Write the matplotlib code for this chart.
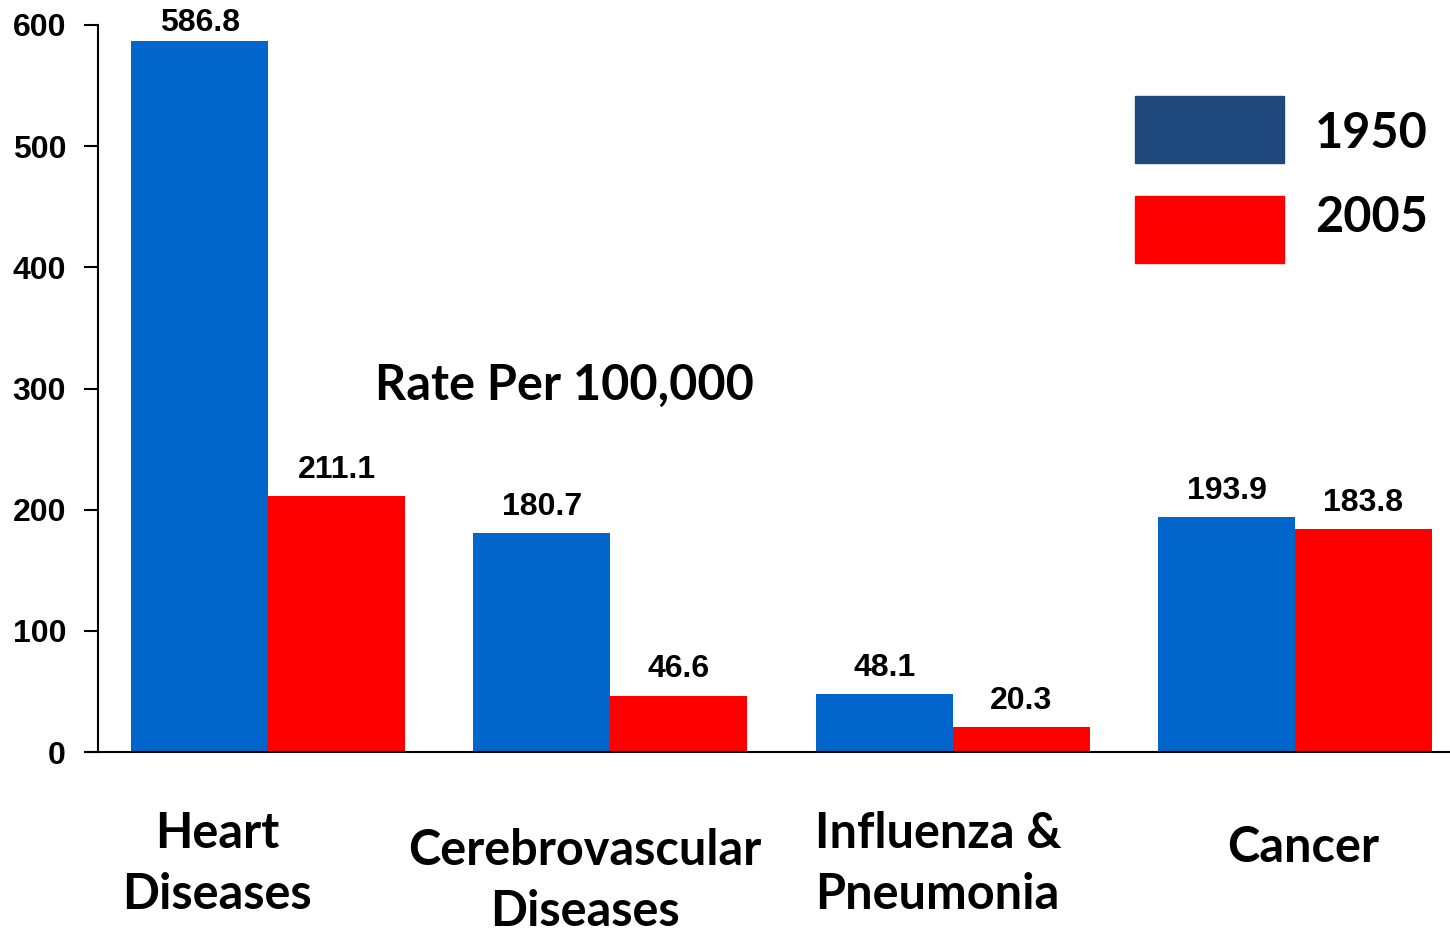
import numpy as np
import matplotlib.pyplot as plt
from matplotlib.patches import Rectangle

# data
categories = ["Heart\nDiseases", "Cerebrovascular\nDiseases", "Influenza &\nPneumonia", "Cancer"]
rates_1950 = [586.8, 180.7, 48.1, 193.9]
rates_2005 = [211.1, 46.6, 20.3, 183.8]
years = ["1950", "2005"]
y_ticks = [0, 100, 200, 300, 400, 500, 600]

blue = "#0066CC"
red = "#FF0000"
legend_blue = "#1F497D"

fig = plt.figure(figsize=(14.5, 9.33), dpi=100)
ax = fig.add_axes([98 / 1450, 1 - 752 / 933, 1 - 98 / 1450, (752 - 25) / 933])

x = np.arange(len(categories))
w = 0.4
b1 = ax.bar(x - w / 2, rates_1950, w, color=blue)
b2 = ax.bar(x + w / 2, rates_2005, w, color=red)

for bars, vals in [(b1, rates_1950), (b2, rates_2005)]:
    for bar, v in zip(bars, vals):
        # tallest label squeezed against the top edge
        off = 2 if v > 550 else 8
        ax.annotate(f"{v:.1f}", (bar.get_x() + bar.get_width() / 2, v),
                    xytext=(0, off), textcoords="offset points",
                    ha="center", va="bottom", fontsize=23, fontweight="bold",
                    family="Liberation Sans", annotation_clip=False)

ax.set_xlim(-0.497, 3.453)
ax.set_ylim(0, 600)
ax.set_yticks(y_ticks)
ax.set_yticklabels([str(t) for t in y_ticks], fontsize=23, fontweight="bold",
                   family="Liberation Sans")
ax.tick_params(axis="y", direction="out", length=10, width=1.5, pad=13)
ax.set_xticks([])
for s in ["top", "right"]:
    ax.spines[s].set_visible(False)
ax.spines["left"].set_linewidth(1.5)
ax.spines["bottom"].set_linewidth(1.5)
ax.spines["bottom"].set_bounds(-0.527, 3.453)
ax.spines["bottom"].set_clip_on(False)

# category labels (figure pixel positions)
lab_font = dict(fontsize=35, fontweight="bold", family="Lato", linespacing=1.45)
fig.text(217 / 1450, 1 - 864 / 933, categories[0], ha="center", va="center", **lab_font)
fig.text(585 / 1450, 1 - 881 / 933, categories[1], ha="center", va="center", **lab_font)
fig.text(815 / 1450, 1 - 864 / 933, categories[2], ha="left", va="center", **lab_font)
fig.text(1303 / 1450, 1 - 848 / 933, categories[3], ha="center", va="center", **lab_font)

fig.text(564 / 1450, 1 - 385 / 933, "Rate Per 100,000", ha="center", va="center",
         fontsize=35, fontweight="bold", family="Lato")

# legend drawn manually
legend_colors = [legend_blue, red]
for i, (yr, c) in enumerate(zip(years, legend_colors)):
    top = 96 + i * 100
    fig.patches.append(Rectangle((1135 / 1450, 1 - (top + 67) / 933), 149 / 1450, 67 / 933,
                                 transform=fig.transFigure, color=c))
    fig.text(1315 / 1450, 1 - (134 + i * 83) / 933, yr, ha="left", va="center",
             fontsize=35, fontweight="bold", family="Lato")

fig.savefig("out.png", dpi=100)
